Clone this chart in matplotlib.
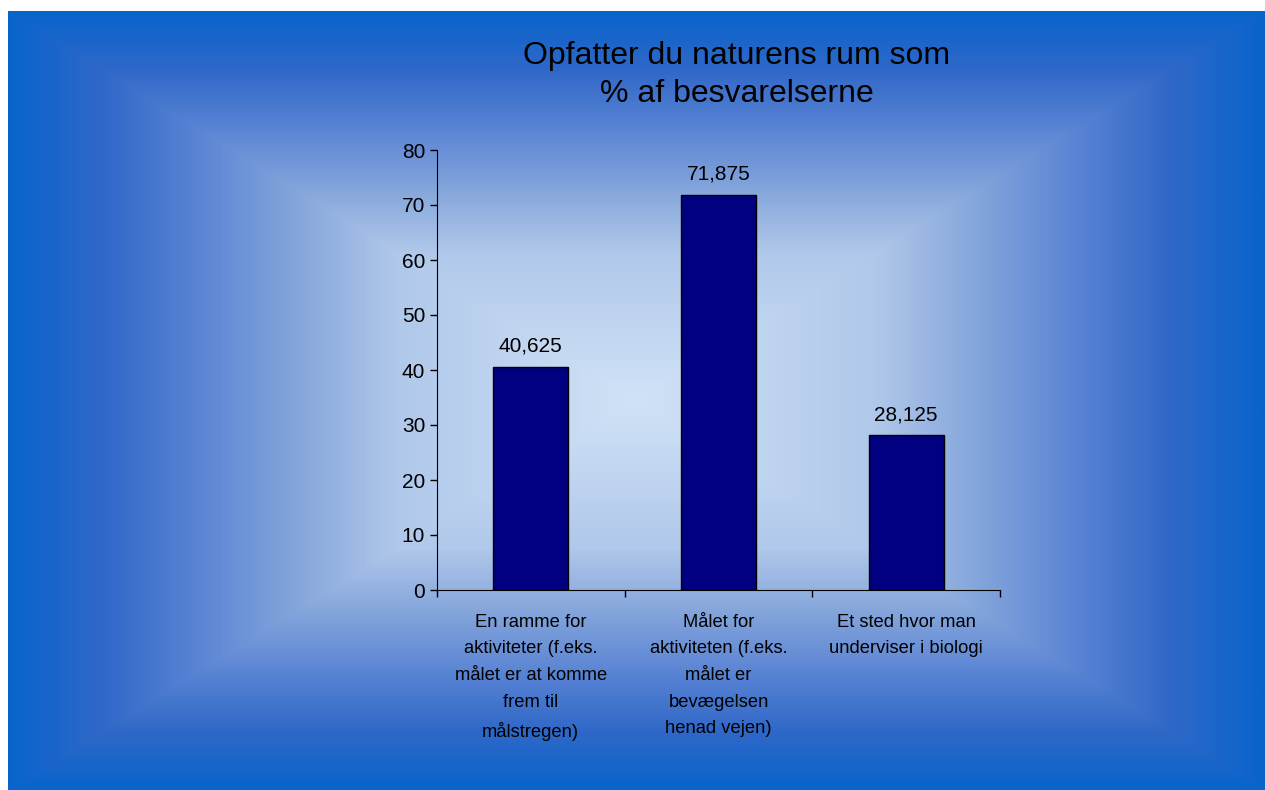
import numpy as np
import matplotlib
matplotlib.use("Agg")
import matplotlib.pyplot as plt
from matplotlib.colors import LinearSegmentedColormap

plt.rcParams['font.family'] = ['Liberation Sans', 'DejaVu Sans']

title = "Opfatter du naturens rum som\n% af besvarelserne"
categories = [
    "En ramme for\naktiviteter (f.eks.\nmålet er at komme\nfrem til\nmålstregen)",
    "Målet for\naktiviteten (f.eks.\nmålet er\nbevægelsen\nhenad vejen)",
    "Et sted hvor man\nunderviser i biologi",
]
values = [40.625, 71.875, 28.125]
yticks = [0, 10, 20, 30, 40, 50, 60, 70, 80]

W, H = 1265, 790
fig = plt.figure(figsize=(W / 100, H / 100), dpi=100)

# rectangular gradient background (light centre, blue edges)
bg = fig.add_axes([8 / W, 0, 1 - 8 / W, 1 - 11 / H])
bg.set_axis_off()
gx = np.linspace(-1, 1, 800)
gy = np.linspace(-1, 1, 500)
X, Y = np.meshgrid(gx, gy)
t = np.maximum(np.abs(X), np.abs(Y))
cmap = LinearSegmentedColormap.from_list(
    "bg", [(0, "#d0e2f6"), (0.38, "#b0c8ea"), (0.53, "#88a8dc"),
           (0.7, "#5a84d4"), (0.85, "#3068c8"), (1, "#0864cc")])
bg.imshow(t, cmap=cmap, aspect="auto", extent=[0, 1, 0, 1], vmin=0, vmax=1)

ax = fig.add_axes([437 / W, 1 - 590 / H, (1000 - 437) / W, (590 - 150) / H])
ax.patch.set_alpha(0)
x = np.arange(len(values))
bars = ax.bar(x, values, width=0.4, color="#000080", edgecolor="black", linewidth=1)
for xi, v in zip(x, values):
    ax.text(xi, v + 2, f"{v:g}".replace(".", ","), ha="center", va="bottom", fontsize=15)

ax.set_xlim(-0.5, len(values) - 0.5)
ax.set_ylim(0, 80)
ax.set_yticks(yticks)
ax.tick_params(axis="y", labelsize=15, length=5, direction="out", width=1)
ax.set_xticks(np.arange(len(values) + 1) - 0.5, minor=False)
ax.set_xticklabels([])
ax.tick_params(axis="x", length=5, direction="out", width=1)
for xi, lab in zip(x, categories):
    ax.text(xi, -4.3, lab, ha="center", va="top", fontsize=13.2, linespacing=1.74,
            transform=ax.transData)
for s in ["top", "right"]:
    ax.spines[s].set_visible(False)

fig.text(737 / W, 1 - 75 / H, title, ha="center", va="center", fontsize=23, linespacing=1.36)

fig.savefig("out.png", dpi=100)
